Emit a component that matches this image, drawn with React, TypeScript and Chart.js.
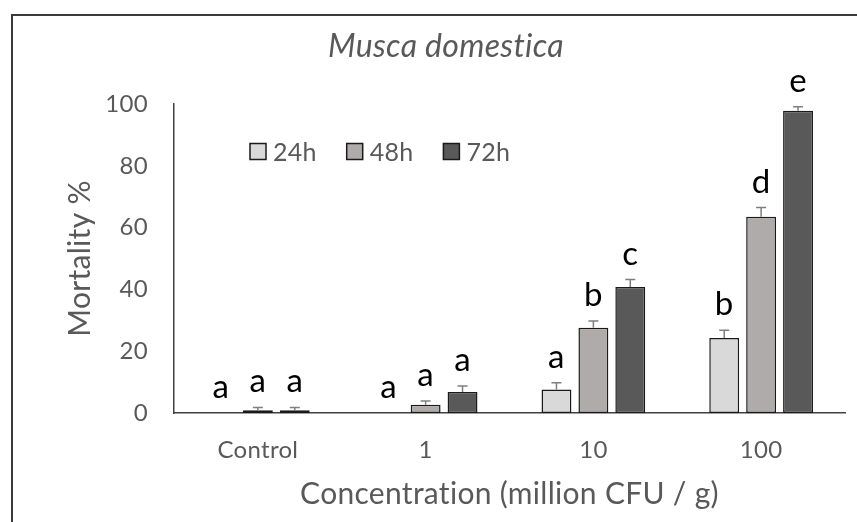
import React, { useEffect, useRef } from "react";
import { Chart, registerables } from "chart.js";

Chart.register(...registerables);

const categories = ["Control", "1", "10", "100"];
const seriesLabels = ["24h", "48h", "72h"];
const mortality24h = [0, 0, 7.6, 24.3];
const mortality48h = [0.9, 2.7, 27.6, 63.5];
const mortality72h = [0.9, 6.8, 40.8, 97.8];
const error24h = [0, 0, 2.2, 2.5];
const error48h = [0.9, 1.2, 2.2, 3.0];
const error72h = [0.9, 1.9, 2.4, 1.3];
const letters24h = ["a", "a", "a", "b"];
const letters48h = ["a", "a", "b", "d"];
const letters72h = ["a", "a", "c", "e"];
const yMin = 0;
const yMax = 100;
const yStep = 20;
const chartTitle = "Musca domestica";

const fillColors = ["#d9d9d9", "#afabab", "#595959"];
const FONT = "Lato";
const TEXT_GRAY = "#595959";

const noLigaturePlugin = {
  id: "noLigatures",
  beforeDraw(chart: any) {
    chart.ctx.letterSpacing = "0.3px";
  },
};

const titlePlugin = {
  id: "manualTitle",
  afterDraw(chart: any) {
    const ctx = chart.ctx;
    ctx.save();
    ctx.letterSpacing = "0.3px";
    ctx.fillStyle = TEXT_GRAY;
    ctx.font = `italic 32px ${FONT}`;
    ctx.textAlign = "center";
    ctx.textBaseline = "middle";
    ctx.fillText(chartTitle, 446, 47);
    ctx.restore();
  },
};

const errorAndLetterPlugin = {
  id: "errorAndLetters",
  afterDatasetsDraw(chart: any) {
    const ctx = chart.ctx;
    const yScale = chart.scales.y;
    chart.data.datasets.forEach((ds: any, i: number) => {
      const meta = chart.getDatasetMeta(i);
      meta.data.forEach((bar: any, j: number) => {
        const v = ds.data[j];
        const e = ds.errors[j];
        const x = bar.x;
        const yTop = yScale.getPixelForValue(v + e);
        const yVal = yScale.getPixelForValue(v);
        if (e > 0) {
          ctx.save();
          ctx.strokeStyle = "#7f7f7f";
          ctx.lineWidth = 1.5;
          ctx.beginPath();
          ctx.moveTo(x, yVal);
          ctx.lineTo(x, yTop);
          ctx.moveTo(x - 5, yTop);
          ctx.lineTo(x + 5, yTop);
          ctx.stroke();
          ctx.restore();
        }
        ctx.save();
        ctx.fillStyle = "#000000";
        ctx.font = `33px ${FONT}`;
        ctx.textAlign = "center";
        ctx.textBaseline = "alphabetic";
        ctx.fillText(ds.letters[j], x, yTop - 15);
        ctx.restore();
      });
    });
  },
};

const legendPlugin = {
  id: "insideLegend",
  afterDraw(chart: any) {
    const ctx = chart.ctx;
    const area = chart.chartArea;
    const startX = area.left + 76;
    const step = 96.7;
    const cy = area.top + 47.5;
    chart.data.datasets.forEach((ds: any, i: number) => {
      const bx = startX + i * step;
      ctx.save();
      ctx.fillStyle = ds.backgroundColor;
      ctx.strokeStyle = "#1a1a1a";
      ctx.lineWidth = 1.5;
      ctx.fillRect(bx, cy - 8, 16, 16);
      ctx.strokeRect(bx, cy - 8, 16, 16);
      ctx.fillStyle = TEXT_GRAY;
      ctx.font = `25px ${FONT}`;
      ctx.textAlign = "left";
      ctx.textBaseline = "middle";
      ctx.fillText(ds.label, bx + 23, cy + 1);
      ctx.restore();
    });
  },
};

export default function App() {
  const canvasRef = useRef<HTMLCanvasElement | null>(null);

  useEffect(() => {
    if (!canvasRef.current) return;
    const values = [mortality24h, mortality48h, mortality72h];
    const errors = [error24h, error48h, error72h];
    const letters = [letters24h, letters48h, letters72h];
    const chart = new Chart(canvasRef.current, {
      type: "bar",
      data: {
        labels: categories,
        datasets: seriesLabels.map((label, i) => ({
          label,
          data: values[i],
          errors: errors[i],
          letters: letters[i],
          backgroundColor: fillColors[i],
          borderColor: "#1a1a1a",
          borderWidth: 1.5,
          borderSkipped: false,
          categoryPercentage: 0.66,
          barPercentage: 0.81,
        })) as any,
      },
      options: {
        animation: false,
        responsive: false,
        maintainAspectRatio: false,
        layout: { padding: { left: 0, right: 12, top: 104, bottom: 0 } },
        plugins: {
          legend: { display: false },
          tooltip: { enabled: false },
          title: { display: false },
        },
        scales: {
          x: {
            grid: { display: false, drawTicks: false },
            border: { display: true, color: "#404040", width: 1.5 },
            ticks: {
              color: TEXT_GRAY,
              font: { family: FONT, size: 24 },
              padding: 23,
            },
            title: {
              display: true,
              text: "Concentration (million CFU / g)",
              color: TEXT_GRAY,
              font: { family: FONT, size: 30, lineHeight: 1.2 },
              padding: { top: 0, bottom: 10 },
            },
            afterFit: (s: any) => {
              s.height = 109;
            },
          },
          y: {
            min: yMin,
            max: yMax,
            grid: { display: false, drawTicks: false },
            border: { display: true, color: "#404040", width: 1.5 },
            ticks: {
              stepSize: yStep,
              color: TEXT_GRAY,
              font: { family: FONT, size: 24 },
              padding: 26,
            },
            title: {
              display: true,
              text: "Mortality %",
              color: TEXT_GRAY,
              font: { family: FONT, size: 30, lineHeight: 1.2 },
              padding: { top: 62, bottom: 0 },
            },
            afterFit: (s: any) => {
              s.width = 174;
            },
          },
        },
      } as any,
      plugins: [noLigaturePlugin, errorAndLetterPlugin, legendPlugin, titlePlugin],
    });
    return () => chart.destroy();
  }, []);

  return (
    <div style={{ position: "fixed", left: 0, top: 0, width: 857, height: 522, background: "#ffffff", overflow: "hidden" }}>
      <canvas ref={canvasRef} width={857} height={522} style={{ position: "absolute", left: 0, top: 0 }} />
      <div
        style={{
          position: "absolute",
          left: 11,
          top: 14,
          width: 900,
          height: 600,
          borderTop: "2px solid #3a3a3a",
          borderLeft: "2px solid #3a3a3a",
          pointerEvents: "none",
        }}
      />
    </div>
  );
}
